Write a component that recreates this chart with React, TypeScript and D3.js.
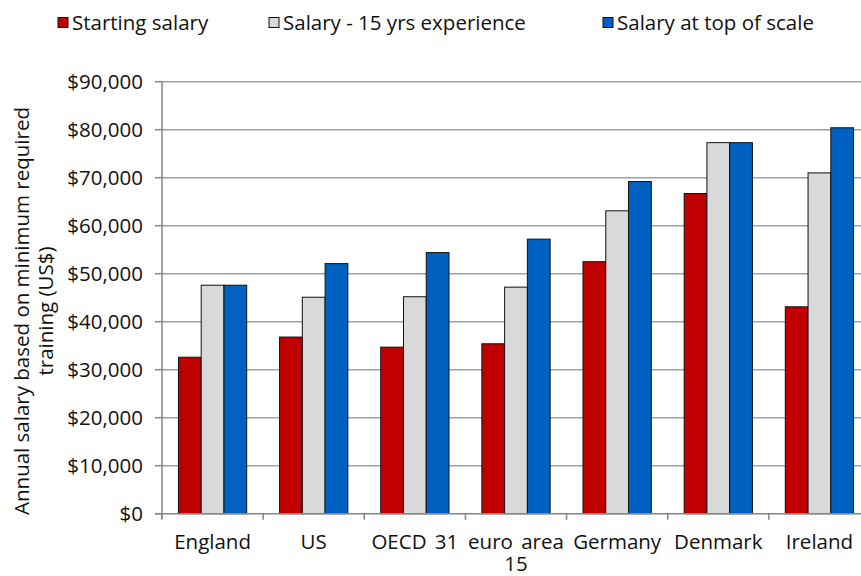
import React from "react";
import * as d3 from "d3";

const categories = ["England", "US", "OECD 31", "euro area 15", "Germany", "Denmark", "Ireland"];
const seriesNames = ["Starting salary", "Salary - 15 yrs experience", "Salary at top of scale"];
const starting = [32600, 36800, 34700, 35400, 52500, 66700, 43100];
const fifteenYrs = [47600, 45100, 45200, 47200, 63100, 77300, 71000];
const topScale = [47600, 52100, 54400, 57200, 69200, 77300, 80400];
const yTicks = [0, 10000, 20000, 30000, 40000, 50000, 60000, 70000, 80000, 90000];
const colors = ["#C00000", "#D9D9D9", "#0061C1"];

const W = 861;
const H = 576;
const M = { left: 162, right: 870, top: 81.7, bottom: 513.7 };
const FONT = "'Open Sans', sans-serif";
const FS = 20.5;

export default function App() {
  const x = d3.scaleBand<string>().domain(categories).range([M.left, M.right]).paddingInner(0).paddingOuter(0);
  const y = d3.scaleLinear().domain([0, 90000]).range([M.bottom, M.top]);
  const series = [starting, fifteenYrs, topScale];
  const bw = x.bandwidth();
  const barW = bw * 0.225;
  const groupW = barW * 3;
  const fmt = (v: number) => "$" + d3.format(",")(v);
  const legendX = [58, 269, 603];

  return (
    <svg width={W} height={H} style={{ position: "absolute", left: 0, top: 0, background: "#fff" }}>
      <rect x={0} y={0} width={W} height={H} fill="#fff" />
      {/* gridlines */}
      {yTicks.filter((t) => t > 0).map((t) => (
        <line key={t} x1={M.left} x2={M.right} y1={y(t)} y2={y(t)} stroke="#A0A0A0" strokeWidth={1.5} />
      ))}
      {/* bars */}
      {categories.map((c, i) => {
        const x0 = (x(c) as number) + (bw - groupW) / 2;
        return series.map((s, j) => (
          <rect
            key={c + j}
            x={x0 + j * barW}
            y={y(s[i])}
            width={barW}
            height={y(0) - y(s[i])}
            fill={colors[j]}
            stroke="#111"
            strokeWidth={1}
          />
        ));
      })}
      {/* axes */}
      <line x1={M.left} x2={M.left} y1={M.top} y2={M.bottom + 5} stroke="#868686" strokeWidth={1.5} />
      <line x1={M.left - 7} x2={M.right} y1={M.bottom} y2={M.bottom} stroke="#868686" strokeWidth={1.5} />
      {yTicks.map((t) => (
        <g key={"yt" + t}>
          <line x1={M.left - 7} x2={M.left} y1={y(t)} y2={y(t)} stroke="#868686" strokeWidth={1.5} />
          <text x={M.left - 19} y={y(t)} dy="0.35em" textAnchor="end" fontFamily={FONT} fontSize={FS} fill="#111">
            {fmt(t)}
          </text>
        </g>
      ))}
      {categories.map((c, i) => (
        <line key={"xt" + i} x1={x(c) as number} x2={x(c) as number} y1={M.bottom} y2={M.bottom + 6} stroke="#868686" strokeWidth={1.5} />
      ))}
      {categories.map((c) => {
        const cx = (x(c) as number) + bw / 2;
        const parts = c === "euro area 15" ? ["euro area", "15"] : [c];
        return (
          <text key={"xl" + c} x={cx} y={548.5} textAnchor="middle" fontFamily={FONT} fontSize={FS} fill="#111" wordSpacing={3}>
            {parts.map((p, k) => (
              <tspan key={k} x={cx} dy={k === 0 ? 0 : 22.5}>
                {p}
              </tspan>
            ))}
          </text>
        );
      })}
      {/* y title */}
      <text transform={`translate(29, 311) rotate(-90)`} textAnchor="middle" fontFamily={FONT} fontSize={FS} fill="#111">
        <tspan x={0} dy={0}>Annual salary based on minimum required</tspan>
        <tspan x={0} dy={24}>training (US$)</tspan>
      </text>
      {/* legend */}
      {seriesNames.map((n, j) => (
        <g key={"lg" + j}>
          <rect x={legendX[j]} y={17.5} width={10} height={10} fill={colors[j]} stroke="#111" strokeWidth={1} />
          <text x={legendX[j] + 14} y={22.5} dy="0.35em" fontFamily={FONT} fontSize={FS} fill="#111">
            {n}
          </text>
        </g>
      ))}
    </svg>
  );
}
